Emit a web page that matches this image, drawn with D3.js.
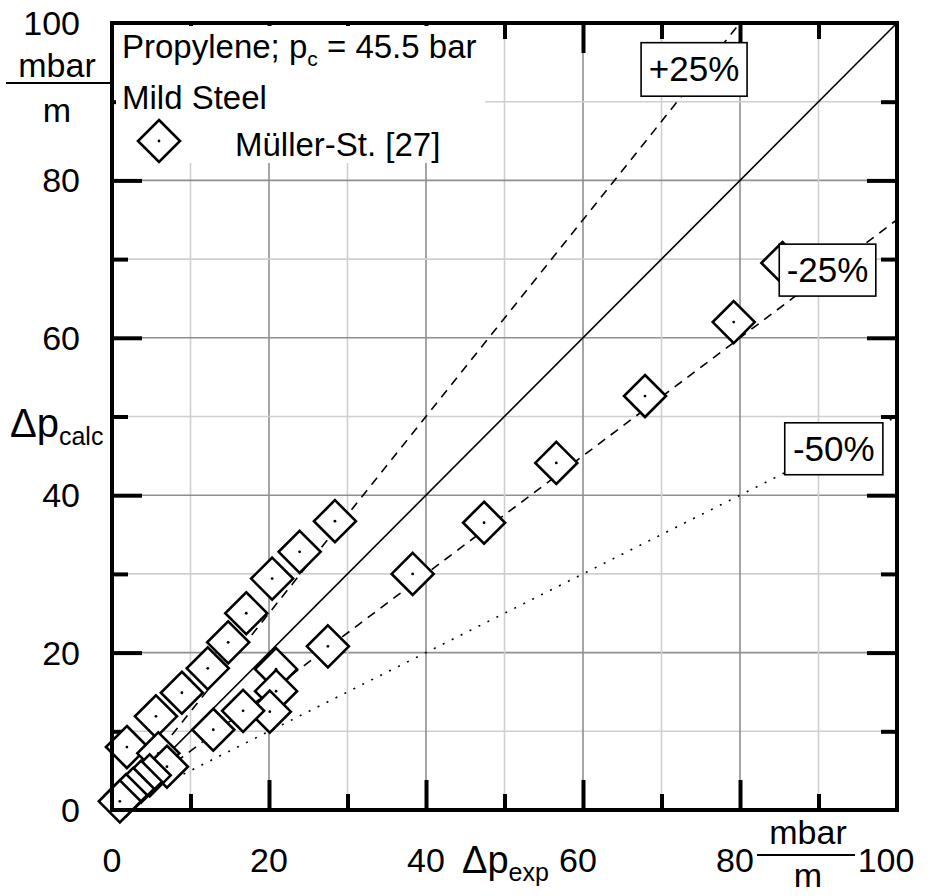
<!DOCTYPE html>
<html>
<head>
<meta charset="utf-8">
<script src="https://cdn.jsdelivr.net/npm/d3@7"></script>
<style>
  html, body { margin: 0; padding: 0; background: #fff; }
  svg { display: block; }
  text { font-family: "Liberation Sans", Arial, sans-serif; fill: #000; }
</style>
</head>
<body>
<svg id="chart" width="931" height="896"></svg>
<script>
// Measured vs. calculated pressure drop, propylene in mild steel tubes
const seriesName = "Müller-St. [27]";
const dpExp  = [28.4, 23.9, 20.4, 17.1, 14.8, 12.2, 8.9, 5.6, 1.9,
                85.4, 79.2, 67.9, 56.6, 47.4, 38.3, 27.5, 20.9, 20.9, 20.1, 16.7, 12.9, 5.9, 7.0,
                4.8, 3.7, 2.7, 1.8, 1.0];
const dpCalc = [36.7, 32.8, 29.4, 25.0, 21.3, 18.0, 14.9, 11.9, 8.0,
                69.5, 62.0, 52.6, 44.1, 36.5, 30.0, 20.8, 17.9, 15.1, 12.5, 12.6, 10.2, 7.2, 5.5,
                4.4, 3.6, 2.7, 1.9, 1.1];

// deviation lines: ratio calc/exp
const devRatios = [1, 1.25, 0.75, 0.5];
const devStyles = ["solid", "dashed", "dashed", "dotted"];
const devLabels = [null, "+25%", "-25%", "-50%"];

const majorTicks = [0, 20, 40, 60, 80, 100];
const minorTicks = [10, 30, 50, 70, 90];

const svg = d3.select("#chart");
const x = d3.scaleLinear().domain([0, 100]).range([112, 897]);
const y = d3.scaleLinear().domain([0, 100]).range([810, 23]);

// grid
const grid = svg.append("g");
d3.range(10, 100, 10).forEach(v => {
  const col = v % 20 === 0 ? "#8f8f8f" : "#cfcfcf";
  grid.append("line").attr("x1", x(v)).attr("x2", x(v)).attr("y1", y(0)).attr("y2", y(100))
    .attr("stroke", col).attr("stroke-width", 1.6);
  grid.append("line").attr("y1", y(v)).attr("y2", y(v)).attr("x1", x(0)).attr("x2", x(100))
    .attr("stroke", col).attr("stroke-width", 1.6);
});

// inward ticks on all four sides
function tickAxes(sel, ticks, len) {
  const mk = (axis, tr) => sel.append("g").attr("transform", tr)
    .call(axis.tickValues(ticks).tickSize(len).tickFormat(""))
    .call(g => g.select(".domain").remove())
    .call(g => g.selectAll(".tick line").attr("stroke", "#000").attr("stroke-width", 4));
  mk(d3.axisBottom(x), `translate(0,${y(0)})`).selectAll(".tick line").attr("y2", -len);
  mk(d3.axisTop(x), `translate(0,${y(100)})`).selectAll(".tick line").attr("y2", len);
  mk(d3.axisLeft(y), `translate(${x(0)},0)`).selectAll(".tick line").attr("x2", len);
  mk(d3.axisRight(y), `translate(${x(100)},0)`).selectAll(".tick line").attr("x2", -len);
}
const ticksG = svg.append("g");
tickAxes(ticksG, [20, 40, 60, 80], 30);
tickAxes(ticksG, minorTicks, 16);

// deviation lines
const dash = { solid: null, dashed: "9 7", dotted: "2 8" };
devRatios.forEach((r, i) => {
  const xEnd = Math.min(100, 100 / r);
  svg.append("line")
    .attr("x1", x(0)).attr("y1", y(0)).attr("x2", x(xEnd)).attr("y2", y(xEnd * r))
    .attr("stroke", "#000").attr("stroke-width", 1.6)
    .attr("stroke-dasharray", dash[devStyles[i]]);
});

// data markers
const diamond = "M0,-21L21,0L0,21L-21,0Z";
const pts = svg.append("g");
dpExp.forEach((v, i) => {
  const g = pts.append("g").attr("transform", `translate(${x(v)},${y(dpCalc[i])})`);
  g.append("path").attr("d", diamond).attr("fill", "#fff").attr("stroke", "#000").attr("stroke-width", 2.6);
  g.append("circle").attr("r", 1.4).attr("fill", "#000");
});

// legend area
svg.append("rect").attr("x", 116).attr("y", 26).attr("width", 369).attr("height", 137).attr("fill", "#fff");
const t1 = svg.append("text").attr("x", 122).attr("y", 58).attr("font-size", 33);
t1.append("tspan").text("Propylene; p");
t1.append("tspan").attr("font-size", 21).attr("dy", 8).text("c");
t1.append("tspan").attr("dy", -8).text(" = 45.5 bar");
svg.append("text").attr("x", 122).attr("y", 109).attr("font-size", 33).text("Mild Steel");
const lg = svg.append("g").attr("transform", "translate(159,141)");
lg.append("path").attr("d", diamond).attr("fill", "#fff").attr("stroke", "#000").attr("stroke-width", 2.6);
lg.append("circle").attr("r", 1.4).attr("fill", "#000");
svg.append("text").attr("x", 235).attr("y", 156).attr("font-size", 33).text(seriesName);

// deviation labels (boxes given in data units)
const labelBoxes = [null, [67.4, 97.5, 80.9, 90.7], [85.0, 71.9, 97.3, 65.3], [85.7, 49.2, 98.2, 42.6]];
devLabels.forEach((lab, i) => {
  if (!lab) return;
  const [a, b, c, d] = labelBoxes[i];
  svg.append("rect").attr("x", x(a)).attr("y", y(b)).attr("width", x(c) - x(a)).attr("height", y(d) - y(b))
    .attr("fill", "#fff").attr("stroke", "#000").attr("stroke-width", 1.6);
  svg.append("text").attr("x", (x(a) + x(c)) / 2).attr("y", (y(b) + y(d)) / 2 + 12)
    .attr("text-anchor", "middle").attr("font-size", 35).text(lab);
});

// frame
svg.append("rect").attr("x", x(0)).attr("y", y(100)).attr("width", x(100) - x(0)).attr("height", y(0) - y(100))
  .attr("fill", "none").attr("stroke", "#000").attr("stroke-width", 4);

// tick labels
const xShift = { 60: -5, 80: -5, 100: -11 };
svg.append("g").selectAll("text").data(majorTicks).join("text")
  .attr("x", d => x(d) + (xShift[d] || 0)).attr("y", 872)
  .attr("text-anchor", "middle").attr("font-size", 34).text(d => d);
svg.append("g").selectAll("text").data(majorTicks).join("text")
  .attr("x", 80).attr("y", d => y(d) + 12)
  .attr("text-anchor", "end").attr("font-size", 34).text(d => d);

// units
function unitFrac(cx, x1, x2, ly, topBase, botBase) {
  svg.append("line").attr("x1", x1).attr("x2", x2).attr("y1", ly).attr("y2", ly)
    .attr("stroke", "#000").attr("stroke-width", 2);
  svg.append("text").attr("x", cx).attr("y", topBase).attr("text-anchor", "middle").attr("font-size", 34).text("mbar");
  svg.append("text").attr("x", cx).attr("y", botBase).attr("text-anchor", "middle").attr("font-size", 34).text("m");
}
unitFrac(57, 6, 112, 83, 77, 122);
unitFrac(808, 757, 855, 855, 844, 887);

// axis titles
const yl = svg.append("text").attr("x", 10).attr("y", 437).attr("font-size", 40);
yl.append("tspan").text("Δp");
yl.append("tspan").attr("font-size", 25).attr("dy", 8).text("calc");
const xl = svg.append("text").attr("x", 462).attr("y", 873).attr("font-size", 38);
xl.append("tspan").text("Δp");
xl.append("tspan").attr("font-size", 25).attr("dy", 8).text("exp");
</script>
</body>
</html>
